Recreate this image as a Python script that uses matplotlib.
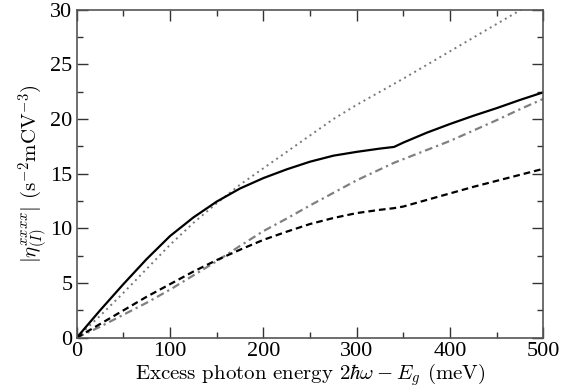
import matplotlib
matplotlib.use("Agg")
import matplotlib.pyplot as plt
from matplotlib.ticker import MultipleLocator

plt.rcParams['mathtext.fontset'] = 'cm'
plt.rcParams['font.family'] = ['Liberation Serif', 'DejaVu Serif']

# Data
x_solid = [0, 25, 50, 75, 100, 125, 150, 175, 200, 225, 250, 275, 300, 325, 340,
           350, 375, 400, 425, 450, 475, 500]
y_solid = [0, 2.5, 4.9, 7.2, 9.3, 11.0, 12.45, 13.65, 14.6, 15.4, 16.1, 16.65, 17.0, 17.3, 17.45,
           17.85, 18.75, 19.55, 20.3, 21.0, 21.75, 22.45]

x_dotted = [0, 25, 50, 75, 100, 125, 150, 175, 200, 225, 250, 275, 300, 325, 350, 400, 450, 500]
y_dotted = [0, 2.0, 4.1, 6.3, 8.5, 10.5, 12.3, 14.0, 15.5, 17.0, 18.5, 20.0, 21.3, 22.5, 23.7,
            26.2, 28.7, 31.2]

x_dashdot = [0, 25, 50, 75, 100, 125, 150, 175, 200, 225, 250, 275, 300, 340, 400, 425, 450, 475, 500]
y_dashdot = [0, 1.0, 2.1, 3.2, 4.4, 5.7, 7.0, 8.4, 9.75, 10.9, 12.1, 13.25, 14.4, 16.0, 18.0,
             18.95, 19.9, 20.9, 21.85]

x_dashed = [0, 25, 50, 75, 100, 125, 150, 175, 200, 225, 250, 275, 300, 325, 340, 350,
            375, 400, 425, 450, 475, 500]
y_dashed = [0, 1.25, 2.5, 3.75, 4.9, 6.05, 7.1, 8.05, 8.95, 9.7, 10.4, 10.95, 11.4, 11.7, 11.85, 12.0,
            12.6, 13.2, 13.8, 14.35, 14.9, 15.45]

fig = plt.figure(figsize=(5.79, 3.92), dpi=100)
ax = fig.add_axes([0.1325, 0.1385, 0.806, 0.8367])

ax.plot(x_dotted, y_dotted, color='#777777', lw=1.4, linestyle=(0, (1, 2)))
ax.plot(x_dashdot, y_dashdot, color='#808080', lw=1.6, linestyle=(0, (3.5, 1.8, 1, 1.8)))
ax.plot(x_dashed, y_dashed, color='black', lw=1.6, linestyle=(0, (3, 1.8)))
ax.plot(x_solid, y_solid, color='black', lw=1.6)

ax.set_xlim(0, 500)
ax.set_ylim(0, 30)
ax.xaxis.set_major_locator(MultipleLocator(100))
ax.xaxis.set_minor_locator(MultipleLocator(50))
ax.yaxis.set_major_locator(MultipleLocator(5))
ax.yaxis.set_minor_locator(MultipleLocator(2.5))
ax.tick_params(which='both', direction='in', top=True, right=True, labelsize=16, color='#333333')
ax.tick_params(which='major', length=8, width=1.0, pad=3)
ax.tick_params(which='minor', length=4, width=1.0)
for s in ax.spines.values():
    s.set_color('#555555')
    s.set_linewidth(1.2)

ax.set_xlabel(r'Excess photon energy $2\hbar\omega - E_g$ (meV)', fontsize=15,
              family='cmr10', labelpad=0)
ax.set_ylabel(r'$|\eta^{xxxx}_{(I)}|$ $(\mathrm{s}^{-2}\mathrm{mCV}^{-3})$', fontsize=15,
              family='cmr10', labelpad=0)

fig.savefig('out.png', dpi=100)
